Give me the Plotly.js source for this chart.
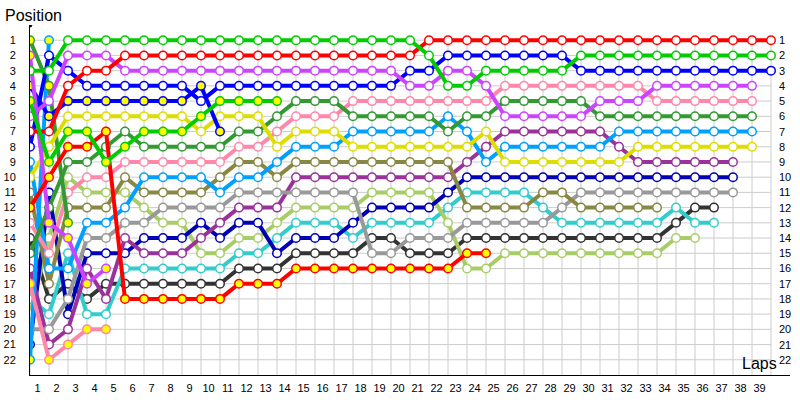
<!DOCTYPE html>
<html>
<head>
<meta charset="utf-8">
<script src="https://cdn.plot.ly/plotly-3.0.1.min.js"></script>
<style>html,body{margin:0;padding:0;background:#fff;}#chart{width:800px;height:400px;}</style>
</head>
<body>
<div id="chart"></div>
<script>
// Lap numbers (0 = grid)
const laps = [0,1,2,3,4,5,6,7,8,9,10,11,12,13,14,15,16,17,18,19,20,21,22,23,24,25,26,27,28,29,30,31,32,33,34,35,36,37,38,39];
const lapLabels = ['1','2','3','4','5','6','7','8','9','10','11','12','13','14','15','16','17','18','19','20','21','22','23','24','25','26','27','28','29','30','31','32','33','34','35','36','37','38','39'];
const positions = [1,2,3,4,5,6,7,8,9,10,11,12,13,14,15,16,17,18,19,20,21,22];

// Position of each driver at each lap (index = lap)
const greenA   = [3,3,1,1,1,1,1,1,1,1, 1,1,1,1,1,1,1,1,1,1, 1,2,4,4,3,3,3,3,3,2, 2,2,2,2,2,2,2,2,2,2];
const greenB   = [5,9,7,7,9,8,7,7,7,6, 5,5,5,5];
const redA     = [7,7,4,3,3,2,2,2,2,2, 2,2,2,2,2,2,2,2,2,2, 2,1,1,1,1,1,1,1,1,1, 1,1,1,1,1,1,1,1,1,1];
const redB     = [12,10,8,8,7,18,18,18,18,18, 18,17,17,17,16,16,16,16,16,16, 16,16,16,15,15];
const violetA  = [6,5,2,2,2,3,3,3,3,3, 3,3,3,3,3,3,3,3,3,3, 4,4,3,3,4,6,6,6,6,6, 5,5,5,4,4,4,4,4,4];
const violetB  = [2,13,14,17,16];
const blueA    = [8,2,3,4,4,4,4,4,4,5, 4,4,4,4,4,4,4,4,4,4, 3,3,2,2,2,2,2,2,2,3, 3,3,3,3,3,3,3,3,3,3];
const blueB    = [4,6,5,5,5,5,5,5,5,4,7];
const yellowA  = [10,8,6,6,6,6,6,6,6,7, 6,6,6,8,7,7,7,8,8,8, 8,8,8,8,7,9,9,9,9,9, 9,9,8,8,8,8,8,8,8];
const dkgreenA = [15,12,9,9,8,7,8,8,8,8, 8,7,7,6,5,5,5,6,6,6, 6,6,7,6,6,5,5,5,5,5, 6,6,6,6,6,6,6,6,6];
const dkgreenB = [1,4,13];
const pinkA    = [13,15,11,10,10,9,9,9,9,9, 9,8,8,7,6,6,6,5,5,5, 5,5,5,5,5,4,4,4,4,4, 4,4,4,5,5,5,5,5,5];
const pinkB    = [17,22,21,20,20];
const azureA   = [9,16,16,13,13,12,10,10,10,10, 11,10,10,9,8,8,8,7,7,7, 7,7,6,7,9,8,8,8,8,8, 8,7,7,7,7,7,7,7,7];
const azureB   = [22,1];
const oliveA   = [11,17,12,12,12,10,11,11,11,11, 10,9,9,10,9,9,9,9,9,9, 9,9,9,12,12,12,12,11,11,12, 12,12,12,12];
const grayA    = [20,20,18,14,14,13,13,12,12,12, 12,11,11,11,11,11,11,11,15,15, 14,14,14,13,13,13,13,13,12,11, 11,11,11,11,11,11,11,11];
const purpleA  = [16,21,20,16,18,14,15,15,15,14, 13,12,12,12,10,10,10,10,10,10, 10,10,10,9,8,7,7,7,7,7, 7,8,9,9,9,9,9,9];
const navyA    = [21,11,19,15,15,15,14,14,14,13, 14,13,13,15,14,14,14,13,12,12, 12,12,11,10,10,10,10,10,10,10, 10,10,10,10,10,10,10,10];
const ltgreenA = [19,14,10,11,11,11,12,13,13,15, 15,14,14,13,12,12,12,12,11,11, 11,11,13,16,16,15,15,15,15,15, 15,15,15,15,14,14];
const cyanA    = [18,19,15,19,19,16,16,16,16,16, 16,15,15,14,13,13,13,14,13,13, 13,13,12,11,11,11,11,12,13,13, 13,13,13,13,12,13,13];
const dkgrayA  = [14,18,17,18,17,17,17,17,17,17, 17,16,16,16,15,15,15,15,14,14, 15,15,15,14,14,14,14,14,14,14, 14,14,14,14,13,12,12];

const drivers = [
  {y: dkgrayA,  c:'#333333', f:'#ffffff'},
  {y: cyanA,    c:'#33cccc', f:'#ffffff'},
  {y: ltgreenA, c:'#a8cc66', f:'#ffffff'},
  {y: navyA,    c:'#0000b4', f:'#ffffff'},
  {y: purpleA,  c:'#993399', f:'#ffffff'},
  {y: grayA,    c:'#999999', f:'#ffffff'},
  {y: oliveA,   c:'#888844', f:'#ffffff'},
  {y: azureB,   c:'#00a0ff', f:'#ffff00'},
  {y: azureA,   c:'#00a0ff', f:'#ffffff'},
  {y: pinkB,    c:'#ff88aa', f:'#ffff00'},
  {y: pinkA,    c:'#ff88aa', f:'#ffffff'},
  {y: dkgreenB, c:'#339933', f:'#ffff00'},
  {y: dkgreenA, c:'#339933', f:'#ffffff'},
  {y: yellowA,  c:'#dddd00', f:'#ffffff'},
  {y: blueB,    c:'#0000ff', f:'#ffff00'},
  {y: blueA,    c:'#0000ff', f:'#ffffff'},
  {y: violetB,  c:'#cc44ff', f:'#ffff00'},
  {y: violetA,  c:'#cc44ff', f:'#ffffff'},
  {y: redB,     c:'#ff0000', f:'#ffff00'},
  {y: redA,     c:'#ff0000', f:'#ffffff'},
  {y: greenB,   c:'#00cc00', f:'#ffff00'},
  {y: greenA,   c:'#00cc00', f:'#ffffff'}
];

const traces = drivers.map(d => ({
  type: 'scatter', mode: 'lines+markers',
  x: laps.slice(0, d.y.length), y: d.y,
  line: {color: d.c, width: 4},
  marker: {size: 8.5, color: d.f, line: {color: d.c, width: 1.5}},
  hoverinfo: 'skip', showlegend: false
}));

const shapes = [];
laps.forEach(l => shapes.push({type:'line', layer:'below', xref:'x', yref:'y', x0:l, x1:l, y0:1, y1:23, line:{color:'#cccccc', width:1}}));
positions.forEach(p => shapes.push({type:'line', layer:'below', xref:'x', yref:'y', x0:0, x1:39, y0:p, y1:p, line:{color:'#cccccc', width:1}}));
shapes.push({type:'circle', xref:'x', yref:'y', x0:-0.1, x1:0.1, y0:-0.13, y1:0.13, fillcolor:'#000', line:{color:'#000', width:1}});

const annotations = positions.map(p => ({
  xref:'x', yref:'y', x:39.3, y:p, text:String(p), showarrow:false, xanchor:'left', yanchor:'middle',
  font:{family:'Liberation Sans, Arial, sans-serif', size:11, color:'#000'}
}));
annotations.push({xref:'paper', yref:'paper', x:-0.036, y:1, yshift:-1, text:'Position', showarrow:false, xanchor:'left', yanchor:'bottom',
  font:{family:'Liberation Sans, Arial, sans-serif', size:16, color:'#000'}});
annotations.push({xref:'x', yref:'paper', x:37.35, y:0, yshift:1, text:'Laps', showarrow:false, xanchor:'left', yanchor:'bottom',
  font:{family:'Liberation Sans, Arial, sans-serif', size:16, color:'#000'}});

const layout = {
  width: 800, height: 400,
  margin: {l:30, r:10, t:25, b:25, pad:0},
  paper_bgcolor:'#ffffff', plot_bgcolor:'#ffffff',
  xaxis: {range:[0,40], showgrid:false, zeroline:false, showline:true, linecolor:'#000', linewidth:1,
    tickvals: lapLabels.map(s => Number(s) - 0.6), ticktext: lapLabels, ticks:'', ticklabelstandoff: 3,
    tickfont:{family:'Liberation Sans, Arial, sans-serif', size:11, color:'#000'}, fixedrange:true},
  yaxis: {range:[23,0], showgrid:false, zeroline:false, showline:true, linecolor:'#000', linewidth:1,
    tickvals: positions, ticktext: positions.map(String), ticks:'', ticklabelstandoff: 11,
    tickfont:{family:'Liberation Sans, Arial, sans-serif', size:11, color:'#000'}, fixedrange:true},
  shapes: shapes, annotations: annotations, hovermode:false
};

Plotly.newPlot('chart', traces, layout, {staticPlot:true, displayModeBar:false});
</script>
</body>
</html>
